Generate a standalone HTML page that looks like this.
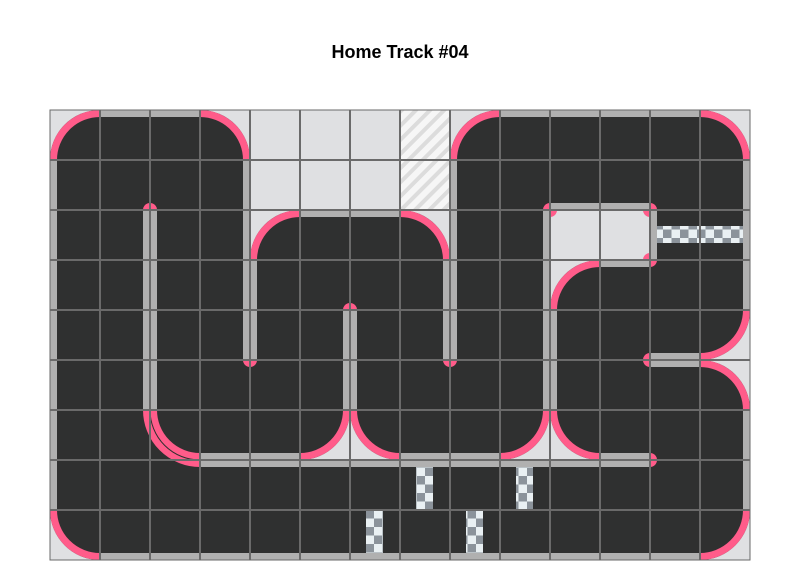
<!DOCTYPE html>
<html><head><meta charset="utf-8"><style>
html,body{margin:0;padding:0;background:#fff;}
svg{display:block}
</style></head><body>
<svg width="800" height="580" viewBox="0 0 800 580" xmlns="http://www.w3.org/2000/svg">
<defs>
<pattern id="chk" width="17" height="17" patternUnits="userSpaceOnUse">
<rect width="17" height="17" fill="#8b939b"/>
<rect width="8.5" height="8.5" fill="#e9f0f3"/>
<rect x="8.5" y="8.5" width="8.5" height="8.5" fill="#e9f0f3"/>
</pattern>
<pattern id="hatch" width="10" height="10" patternUnits="userSpaceOnUse" patternTransform="rotate(-45)">
<rect width="10" height="10" fill="#f6f6f6"/>
<rect width="10" height="4" fill="#dcdcdc"/>
</pattern>
</defs>
<text x="400" y="58" text-anchor="middle" font-family="Liberation Sans, sans-serif" font-weight="bold" font-size="18" fill="#000">Home Track #04</text>
<rect x="50" y="110" width="700" height="450" fill="#2f3030"/>
<rect x="250" y="110" width="150" height="100" fill="#dfe0e2"/>
<rect x="400" y="110" width="50" height="100" fill="url(#hatch)"/>
<rect x="550" y="210" width="100" height="50" fill="#dfe0e2"/>
<g fill="none" stroke="#ff5c8a" stroke-width="7">
<svg x="50" y="110" width="50" height="50"><rect width="50" height="50" fill="#dfe0e2" stroke="none"/><circle cx="50" cy="50" r="50" fill="#2f3030" stroke="none"/><circle cx="50" cy="50" r="46.5"/></svg>
<svg x="200" y="110" width="50" height="50"><rect width="50" height="50" fill="#dfe0e2" stroke="none"/><circle cx="0" cy="50" r="50" fill="#2f3030" stroke="none"/><circle cx="0" cy="50" r="46.5"/></svg>
<svg x="250" y="210" width="50" height="50"><rect width="50" height="50" fill="#dfe0e2" stroke="none"/><circle cx="50" cy="50" r="50" fill="#2f3030" stroke="none"/><circle cx="50" cy="50" r="46.5"/></svg>
<svg x="400" y="210" width="50" height="50"><rect width="50" height="50" fill="#dfe0e2" stroke="none"/><circle cx="0" cy="50" r="50" fill="#2f3030" stroke="none"/><circle cx="0" cy="50" r="46.5"/></svg>
<svg x="450" y="110" width="50" height="50"><rect width="50" height="50" fill="#dfe0e2" stroke="none"/><circle cx="50" cy="50" r="50" fill="#2f3030" stroke="none"/><circle cx="50" cy="50" r="46.5"/></svg>
<svg x="700" y="110" width="50" height="50"><rect width="50" height="50" fill="#dfe0e2" stroke="none"/><circle cx="0" cy="50" r="50" fill="#2f3030" stroke="none"/><circle cx="0" cy="50" r="46.5"/></svg>
<svg x="550" y="260" width="50" height="50"><rect width="50" height="50" fill="#dfe0e2" stroke="none"/><circle cx="50" cy="50" r="50" fill="#2f3030" stroke="none"/><circle cx="50" cy="50" r="46.5"/></svg>
<svg x="700" y="310" width="50" height="50"><rect width="50" height="50" fill="#dfe0e2" stroke="none"/><circle cx="0" cy="0" r="50" fill="#2f3030" stroke="none"/><circle cx="0" cy="0" r="46.5"/></svg>
<svg x="700" y="360" width="50" height="50"><rect width="50" height="50" fill="#dfe0e2" stroke="none"/><circle cx="0" cy="50" r="50" fill="#2f3030" stroke="none"/><circle cx="0" cy="50" r="46.5"/></svg>
<svg x="50" y="510" width="50" height="50"><rect width="50" height="50" fill="#dfe0e2" stroke="none"/><circle cx="50" cy="0" r="50" fill="#2f3030" stroke="none"/><circle cx="50" cy="0" r="46.5"/></svg>
<svg x="700" y="510" width="50" height="50"><rect width="50" height="50" fill="#dfe0e2" stroke="none"/><circle cx="0" cy="0" r="50" fill="#2f3030" stroke="none"/><circle cx="0" cy="0" r="46.5"/></svg>
<svg x="300" y="410" width="50" height="50"><rect width="50" height="50" fill="#dfe0e2" stroke="none"/><circle cx="0" cy="0" r="50" fill="#2f3030" stroke="none"/><circle cx="0" cy="0" r="46.5"/></svg>
<svg x="350" y="410" width="50" height="50"><rect width="50" height="50" fill="#dfe0e2" stroke="none"/><circle cx="50" cy="0" r="50" fill="#2f3030" stroke="none"/><circle cx="50" cy="0" r="46.5"/></svg>
<svg x="500" y="410" width="50" height="50"><rect width="50" height="50" fill="#dfe0e2" stroke="none"/><circle cx="0" cy="0" r="50" fill="#2f3030" stroke="none"/><circle cx="0" cy="0" r="46.5"/></svg>
<svg x="550" y="410" width="50" height="50"><rect width="50" height="50" fill="#dfe0e2" stroke="none"/><circle cx="50" cy="0" r="50" fill="#2f3030" stroke="none"/><circle cx="50" cy="0" r="46.5"/></svg>
<path d="M146.5 410 A53.5 53.5 0 0 0 200 463.5"/>
<path d="M153.5 410 A46.5 46.5 0 0 0 200 456.5"/>
</g>
<path d="M150 410 A50 50 0 0 0 200 460" fill="none" stroke="#2f3030" stroke-width="1"/>
<g fill="#ff5c8a">
<circle cx="150" cy="210" r="7"/><circle cx="250" cy="360" r="7"/><circle cx="350" cy="310" r="7"/>
<circle cx="450" cy="360" r="7"/><circle cx="550" cy="210" r="7"/><circle cx="650" cy="210" r="7"/>
<circle cx="650" cy="260" r="7"/><circle cx="650" cy="360" r="7"/><circle cx="650" cy="460" r="7"/>
</g>
<g fill="#b0b0b0">
<rect x="100" y="110" width="100" height="7"/><rect x="500" y="110" width="200" height="7"/>
<rect x="50" y="160" width="7" height="350"/><rect x="100" y="553" width="600" height="7"/>
<rect x="743" y="160" width="7" height="150"/><rect x="743" y="410" width="7" height="100"/>
<rect x="143" y="210" width="14" height="200"/>
<rect x="243" y="160" width="7" height="200"/><rect x="250" y="260" width="7" height="100"/>
<rect x="343" y="310" width="14" height="100"/>
<rect x="450" y="160" width="7" height="200"/><rect x="443" y="260" width="7" height="100"/>
<rect x="300" y="210" width="100" height="7"/>
<rect x="543" y="210" width="7" height="200"/><rect x="550" y="310" width="7" height="100"/>
<rect x="550" y="203" width="100" height="7"/><rect x="650" y="210" width="7" height="50"/>
<rect x="600" y="260" width="50" height="7"/>
<rect x="650" y="353" width="50" height="14"/>
<rect x="200" y="453" width="100" height="7"/><rect x="400" y="453" width="100" height="7"/><rect x="600" y="453" width="50" height="7"/>
<rect x="200" y="460" width="450" height="7"/>
</g>
<g fill="url(#chk)">
<rect x="416" y="467" width="17" height="43"/><rect x="516" y="467" width="17" height="43"/>
<rect x="366" y="510" width="17" height="43"/><rect x="466" y="510" width="17" height="43"/>
<rect x="657" y="226" width="86" height="17"/>
</g>
<g stroke="#6a6a6a" stroke-width="2" fill="none">
<path d="M100 110V560M150 110V560M200 110V560M250 110V560M300 110V560M350 110V560M400 110V560M450 110V560M500 110V560M550 110V560M600 110V560M650 110V560M700 110V560"/>
<path d="M50 160H750M50 210H750M50 260H750M50 310H750M50 360H750M50 410H750M50 460H750M50 510H750"/>
<rect x="50" y="110" width="700" height="450" stroke-width="1"/>
</g>
</svg>
</body></html>
